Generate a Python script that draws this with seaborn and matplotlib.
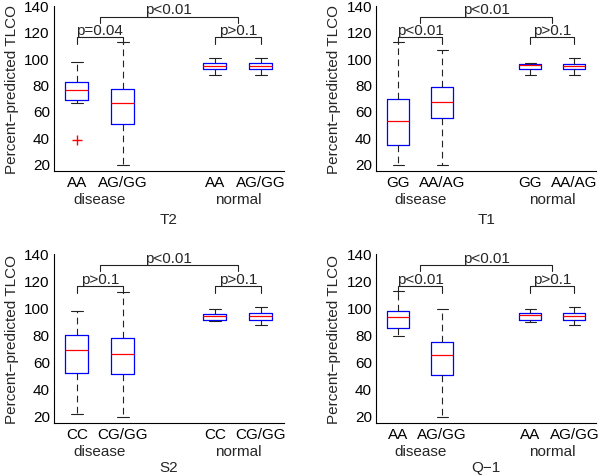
import pandas as pd
import numpy as np
import matplotlib.pyplot as plt
import seaborn as sns

# posiciones de las cajas (disease: 1,2 / normal: 4,5)
posiciones = [1, 2, 4, 5]

# T2
t2_etiquetas = ['AA', 'AG/GG', 'AA', 'AG/GG']
t2_bajo = [66, 19, 87, 87]
t2_q1 = [68, 49.6, 91.5, 91.5]
t2_mediana = [76, 66, 94, 94]
t2_q3 = [82, 76.7, 96, 96]
t2_alto = [97, 112, 100, 100]
t2_atipicos_x = [1]
t2_atipicos_y = [37.5]
t2_p = ['p=0.04', 'p>0.1', 'p<0.01']

# T1
t1_etiquetas = ['GG', 'AA/AG', 'GG', 'AA/AG']
t1_bajo = [19, 19, 87, 87]
t1_q1 = [34.3, 54.4, 91.5, 91.5]
t1_mediana = [52, 66.7, 95.2, 94]
t1_q3 = [68.7, 78.2, 95.8, 95.8]
t1_alto = [112, 106, 96.6, 100]
t1_p = ['p<0.01', 'p>0.1', 'p<0.01']

# S2
s2_etiquetas = ['CC', 'CG/GG', 'CC', 'CG/GG']
s2_bajo = [20.7, 19, 90.3, 86.8]
s2_q1 = [51.4, 50.6, 91, 91]
s2_mediana = [68.5, 65.5, 93.7, 94]
s2_q3 = [79.6, 77.1, 95.5, 96.4]
s2_alto = [97.4, 112, 98.9, 100.9]
s2_p = ['p>0.1', 'p>0.1', 'p<0.01']

# Q-1
q1_etiquetas = ['AA', 'AG/GG', 'AA', 'AG/GG']
q1_bajo = [78.9, 19, 89.3, 86.8]
q1_q1 = [84.8, 49.9, 91, 91]
q1_mediana = [93, 64.8, 94.9, 94.2]
q1_q3 = [97.4, 74.2, 96.4, 96.4]
q1_alto = [112.3, 98.9, 98.9, 100.9]
q1_p = ['p<0.01', 'p>0.1', 'p<0.01']

grupos = ['disease', 'normal']

sns.set_theme(style='white')
plt.rcParams['font.family'] = ['Liberation Sans', 'DejaVu Sans']
plt.rcParams['axes.unicode_minus'] = True

fig = plt.figure(figsize=(6, 4.77), dpi=100)

paneles = [
    ('T2', [0.09, 0.639, 0.383, 0.347], t2_etiquetas, t2_bajo, t2_q1, t2_mediana, t2_q3, t2_alto, t2_p, t2_atipicos_x, t2_atipicos_y, 16),
    ('T1', [0.627, 0.639, 0.367, 0.347], t1_etiquetas, t1_bajo, t1_q1, t1_mediana, t1_q3, t1_alto, t1_p, [], [], 16),
    ('S2', [0.09, 0.1105, 0.383, 0.355], s2_etiquetas, s2_bajo, s2_q1, s2_mediana, s2_q3, s2_alto, s2_p, [], [], 13),
    ('Q\u22121', [0.627, 0.1105, 0.367, 0.355], q1_etiquetas, q1_bajo, q1_q1, q1_mediana, q1_q3, q1_alto, q1_p, [], [], 13),
]

for nombre, rect, etiquetas, bajo, q1, med, q3, alto, pvals, ox, oy, pad_x in paneles:
    ax = fig.add_axes(rect)
    # cinco valores por caja: con n=5 los cuartiles caen justo en los puntos
    filas = []
    for i, p in enumerate(posiciones):
        for v in (bajo[i], q1[i], med[i], q3[i], alto[i]):
            filas.append({'pos': p, 'valor': v})
    df = pd.DataFrame(filas)
    sns.boxplot(data=df, x='pos', y='valor', native_scale=True, width=0.5,
                whis=(0, 100), fill=False, color='blue', linewidth=0.9, ax=ax,
                boxprops=dict(color='blue', linewidth=0.9),
                medianprops=dict(color='red', linewidth=0.9),
                whiskerprops=dict(color='#222222', linewidth=0.8, linestyle=(0, (6, 4))),
                capprops=dict(color='#222222', linewidth=0.8),
                showfliers=False)
    if ox:
        sns.scatterplot(x=ox, y=oy, marker='+', color='red', s=45, linewidth=1, ax=ax)

    # corchetes de significancia
    alto_peq, pata_peq = 116, 111
    alto_gr, pata_gr = 131.5, 127
    for (a, b), txt in zip([(posiciones[0], posiciones[1]), (posiciones[2], posiciones[3])], pvals[:2]):
        ax.plot([a, a, b, b], [pata_peq, alto_peq, alto_peq, pata_peq], color='#222222', lw=0.8, clip_on=False)
        ax.text((a + b) / 2, alto_peq + 0.3, txt, ha='center', va='bottom', fontsize=11, clip_on=False)
    ca = (posiciones[0] + posiciones[1]) / 2
    cb = (posiciones[2] + posiciones[3]) / 2
    ax.plot([ca, ca, cb, cb], [pata_gr, alto_gr, alto_gr, pata_gr], color='#222222', lw=0.8, clip_on=False)
    ax.text((ca + cb) / 2, alto_gr + 0.3, pvals[2], ha='center', va='bottom', fontsize=11, clip_on=False)

    ax.set_xlim(0.5, 5.5)
    ax.set_ylim(14, 140)
    ax.set_yticks(range(20, 141, 20))
    ax.set_xticks(posiciones)
    ax.set_xticklabels(etiquetas)
    ax.tick_params(direction='in', length=3, labelsize=11, colors='black', pad=3)
    for lado in ['top', 'right']:
        ax.spines[lado].set_visible(False)
    for lado in ['left', 'bottom']:
        ax.spines[lado].set_color('black')
        ax.spines[lado].set_linewidth(0.8)

    for g, c in zip(grupos, [ca, cb]):
        ax.annotate(g, xy=(c, 0), xycoords=('data', 'axes fraction'),
                    xytext=(0, -20), textcoords='offset points',
                    ha='center', va='center', fontsize=11)
    ax.set_xlabel(nombre, fontsize=11, labelpad=pad_x)
    ax.set_ylabel('Percent\u2212predicted TLCO', fontsize=11, labelpad=4)

plt.savefig('out.png', dpi=100)
plt.close()
